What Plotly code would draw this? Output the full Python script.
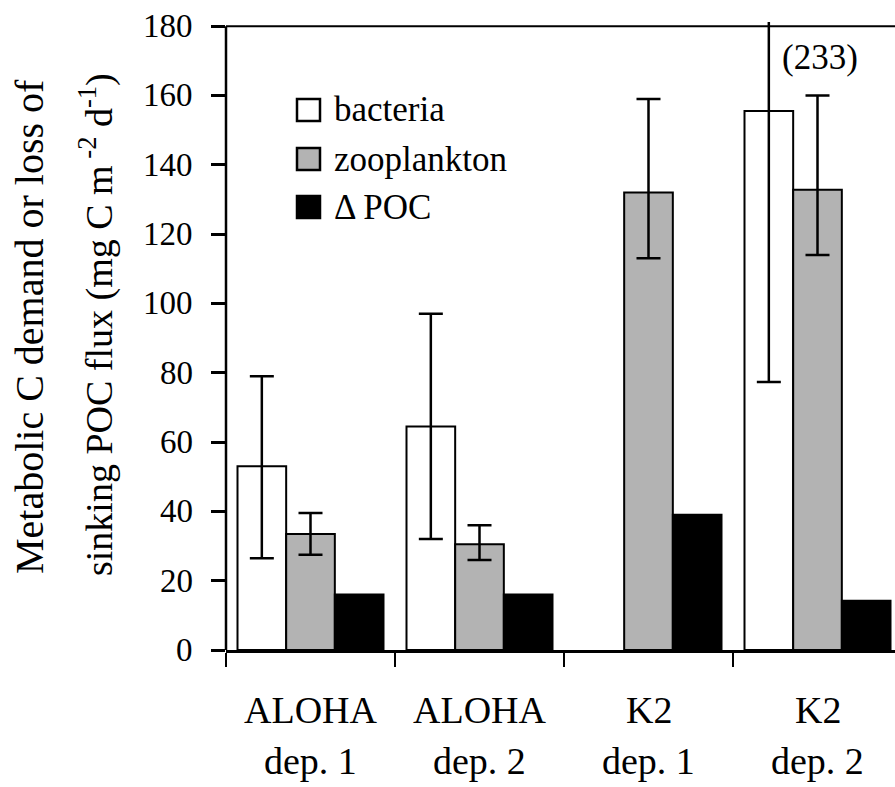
import plotly.graph_objects as go

# ---------------- data ----------------
groups = ["ALOHA dep. 1", "ALOHA dep. 2", "K2 dep. 1", "K2 dep. 2"]
label_line1 = ["ALOHA", "ALOHA", "K2", "K2"]
label_line2 = ["dep. 1", "dep. 2", "dep. 1", "dep. 2"]
series_names = ["bacteria", "zooplankton", "Δ POC"]

bacteria = [53.0, 64.5, None, 155.5]
bacteria_hi = [79.0, 97.0, None, 233.0]
bacteria_lo = [26.5, 32.0, None, 77.3]

zooplankton = [33.5, 30.5, 132.0, 132.8]
zooplankton_hi = [39.5, 36.0, 159.0, 160.0]
zooplankton_lo = [27.5, 26.0, 113.0, 114.0]

delta_poc = [16.0, 16.0, 39.0, 14.2]

y_ticks = [0, 20, 40, 60, 80, 100, 120, 140, 160, 180]
off_scale_label = "(233)"
off_scale_value = 171

# ---------------- layout constants ----------------
W, H = 895, 787
L, T, B, R = 226, 22, 137, 0
PW, PH = W - L - R, H - T - B
CAT_PX = 169.0
Y_MAX = 181.2

FONT = "Liberation Serif, Times New Roman, serif"


def xp(px):
    return (px - L) / PW


def yp(py):
    return (H - B - py) / PH


def up(v, hi):
    return [None if a is None else b - a for a, b in zip(v, hi)]


def down(v, lo):
    return [None if a is None else a - b for a, b in zip(v, lo)]


colors = ["white", "#b3b3b3", "black"]
values = [bacteria, zooplankton, delta_poc]
errs = [
    (up(bacteria, bacteria_hi), down(bacteria, bacteria_lo)),
    (up(zooplankton, zooplankton_hi), down(zooplankton, zooplankton_lo)),
    None,
]

fig = go.Figure()
for name, vals, col, err in zip(series_names, values, colors, errs):
    kw = {}
    if err is not None:
        kw["error_y"] = dict(
            type="data", symmetric=False, array=err[0], arrayminus=err[1],
            color="black", thickness=2.5, width=12,
        )
    fig.add_trace(go.Bar(
        x=groups, y=vals, name=name, marker_color=col,
        marker_line=dict(color="black", width=2),
        showlegend=False, **kw,
    ))

shapes = []
annotations = []

# y-axis line and top line at 180
shapes.append(dict(type="line", xref="paper", yref="y", x0=0, x1=0, y0=0, y1=y_ticks[-1],
                   line=dict(color="black", width=2.5)))
shapes.append(dict(type="line", xref="paper", yref="y", x0=0, x1=1, y0=y_ticks[-1], y1=y_ticks[-1],
                   line=dict(color="black", width=2)))

# y tick labels
for v in y_ticks:
    annotations.append(dict(text=str(v), xref="paper", yref="y", x=xp(195), y=v,
                            xanchor="right", yanchor="middle", showarrow=False,
                            font=dict(family=FONT, size=33, color="black")))

# manual legend
leg_centers = [110, 159, 207]
for name, col, cy in zip(series_names, colors, leg_centers):
    shapes.append(dict(type="rect", xref="paper", yref="paper",
                       x0=xp(297), x1=xp(320), y0=yp(cy + 11), y1=yp(cy - 11),
                       fillcolor=col, line=dict(color="black", width=2.5)))
    annotations.append(dict(text=name, xref="paper", yref="paper", x=xp(332), y=yp(cy),
                            xanchor="left", yanchor="middle", showarrow=False,
                            font=dict(family=FONT, size=35, color="black")))

# category labels (two lines)
for g, l1, l2 in zip(groups, label_line1, label_line2):
    annotations.append(dict(text=l1, xref="x", yref="paper", x=g, y=0, yshift=-60,
                            xanchor="center", yanchor="middle", showarrow=False,
                            font=dict(family=FONT, size=38, color="black")))
    annotations.append(dict(text=l2, xref="x", yref="paper", x=g, y=0, yshift=-111,
                            xanchor="center", yanchor="middle", showarrow=False,
                            font=dict(family=FONT, size=38, color="black")))

# off-scale value label
annotations.append(dict(text=off_scale_label, xref="x", yref="y", x=groups[3], xshift=2,
                        y=off_scale_value, showarrow=False,
                        font=dict(family=FONT, size=35, color="black")))

# y axis title (two lines)
annotations.append(dict(text="Metabolic C demand or loss of", xref="paper", yref="paper",
                        x=xp(30), y=yp(327), xanchor="center", yanchor="middle",
                        textangle=-90, showarrow=False,
                        font=dict(family=FONT, size=40, color="black")))
annotations.append(dict(text="sinking POC flux (mg C m<sup> -2</sup> d<sup>-1</sup>)",
                        xref="paper", yref="paper",
                        x=xp(97), y=yp(325), xanchor="center", yanchor="middle",
                        textangle=-90, showarrow=False,
                        font=dict(family=FONT, size=38, color="black")))

fig.update_layout(
    width=W, height=H,
    margin=dict(l=L, r=R, t=T, b=B, pad=0),
    paper_bgcolor="white", plot_bgcolor="white",
    barmode="group", bargap=23 / CAT_PX, bargroupgap=0,
    showlegend=False,
    shapes=shapes, annotations=annotations,
    font=dict(family=FONT, color="black"),
)
fig.update_xaxes(
    type="category", categoryorder="array", categoryarray=groups,
    range=[-0.5, -0.5 + PW / CAT_PX],
    showline=True, linecolor="black", linewidth=2.5,
    ticks="outside", tickson="boundaries", ticklen=14, tickwidth=2, tickcolor="black",
    showticklabels=False, showgrid=False, zeroline=False,
)
fig.update_yaxes(
    range=[0, Y_MAX], tickvals=y_ticks,
    showline=False, ticks="outside", ticklen=14, tickwidth=2.5, tickcolor="black",
    showticklabels=False,
    showgrid=False, zeroline=False,
)

fig.write_html("out.html")
